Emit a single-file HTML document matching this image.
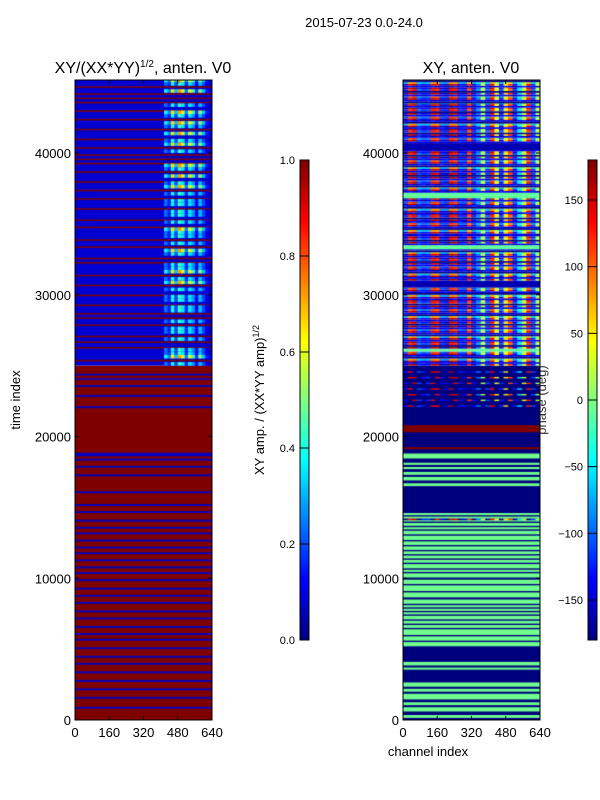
<!DOCTYPE html>
<html><head><meta charset="utf-8"><style>
body{margin:0;background:#fff;width:600px;height:800px;overflow:hidden;position:relative;font-family:"Liberation Sans",sans-serif}
canvas{position:absolute}
svg{position:absolute;left:0;top:0}
</style></head><body>
<canvas id="c1" width="137" height="640" style="left:75px;top:80px"></canvas>
<canvas id="c2" width="137" height="640" style="left:403px;top:80px"></canvas>
<canvas id="cb1" width="9" height="480" style="left:300px;top:160px"></canvas>
<canvas id="cb2" width="9" height="480" style="left:588px;top:160px"></canvas>
<svg id="ax" width="600" height="800" font-size="13" fill="#000">
<text x="364" y="27" text-anchor="middle">2015-07-23 0.0-24.0</text>
<text x="143" y="73" text-anchor="middle" font-size="16">XY/(XX*YY)<tspan dy="-6" font-size="10">1/2</tspan><tspan dy="6">, anten. V0</tspan></text>
<text x="471" y="73" text-anchor="middle" font-size="16">XY, anten. V0</text>
<text transform="translate(20,400) rotate(-90)" text-anchor="middle">time index</text>
<text x="428" y="756" text-anchor="middle">channel index</text>
<text transform="translate(264,400) rotate(-90)" text-anchor="middle">XY amp. / (XX*YY amp)<tspan dy="-5" font-size="9">1/2</tspan></text>
<text transform="translate(546,400) rotate(-90)" text-anchor="middle" fill="#333">phase (deg)</text>
<g id="axes"></g>
</svg>
<script>
const T0=0,T1=45150;
const yTicks=[0,10000,20000,30000,40000];
const xTicks=[0,160,320,480,640];
const cb1Ticks=[0,0.2,0.4,0.6,0.8,1.0];
const cb1Labels=["0.0","0.2","0.4","0.6","0.8","1.0"];
const cb2Ticks=[-150,-100,-50,0,50,100,150];
const cb2Labels=["\u2212150","\u2212100","\u221250","0","50","100","150"];
const leftBlueStripes=[800,1500,2100,2700,3300,3900,4400,5000,5600,6000,6500,7100,7600,8200,8700,9200,9800,10300,10700,11200,11700,12100,12600,13100,13500,14000,14600,15100,16000,17200,17800,18300,18600,22000,22800,23500,24300];
const leftRedStripes=[25300,26200,26600,27000,27800,28300,28600,29200,29900,30600,31300,32200,32500,33300,33800,34700,35200,36000,36700,37300,37900,38600,39200,39500,39800,40300,40900,41600,42300,42900,43500,43800,44100,44600];
const leftActiveProfile=[0.3,0.2,0.5,0.25,0.55,0.45,0.2,0.45,0.35,0.15,0.4,0.25,0.12,0.08];
// right lower: green bands [start,end] on navy background
const rightGreenBands=[[150,350],[600,900],[1050,1250],[1450,1850],[2000,2200],[2350,2650],[3550,3700],[3850,4100],
[5200,5500],[5600,5900],[6000,6400],[6500,6700],[6800,7000],[7100,7350],[7450,7600],[7700,7850],[7950,8100],[8200,8500],[8650,9000],[9100,9500],[9600,9900],[10050,10350],[10450,10600],[10700,11000],[11100,11300],[11400,11600],[11700,11900],[12000,12250],[12350,12600],[12700,13000],[13100,13350],[13450,13600],[13700,13900],[14000,14100],[14200,14350],[14450,14600],
[16500,16700],[16900,17150],[17300,17500],[17700,17850],[18000,18150],[18450,18800]];
const rightRedBands=[[19100,19250],[20300,20800]];
const rightStreakRows=[14100,22100,22500,22900,23300,23700,24100,24500];
const rightBands=[[25000,26000,2],[26000,26200,1],[26200,28000,2],[28000,29500,2],[29500,30500,2],[30500,31000,0],[31000,33200,2],[33200,33500,1],[33500,34200,2],[34200,36800,2],[36800,37200,1],[37200,38500,2],[38500,40200,2],[40200,40700,0],[40700,43500,2],[43500,45150,2]];
const rightColProfile=[-150,150,170,-120,-140,-130,160,150,-150,-160,170,160,-140,-150,130,-150,-100,20,-120,150,40,-130,60,120,-140,-60,30,140,-120,20];
const rightRowFactor=[1,-1,1,0.7,-1,1,-1,0.8,1,-1,1,0.5];

function jet(v){v=Math.max(0,Math.min(1,v));
 const r=Math.max(0,Math.min(1,1.5-Math.abs(4*v-3))),g=Math.max(0,Math.min(1,1.5-Math.abs(4*v-2))),b=Math.max(0,Math.min(1,1.5-Math.abs(4*v-1)));
 return `rgb(${r*255|0},${g*255|0},${b*255|0})`;}
const H=640,W=137;
const yOf=t=>H-(t-T0)/(T1-T0)*H;
const xOf=c=>c/640*W;
function band(ctx,t0,t1,col){const y1=yOf(t1),y0=yOf(t0);ctx.fillStyle=col;ctx.fillRect(0,y1,W,Math.max(1,y0-y1));}

const c1=document.getElementById('c1').getContext('2d');
band(c1,0,25000,jet(1));
leftBlueStripes.forEach((t,i)=>band(c1,t,t+(i==32?250:130),jet(0.07)));
band(c1,25000,T1,jet(0.08));
leftRedStripes.forEach(t=>band(c1,t,t+110,jet(1)));
for(let t=25000;t<T1;t+=250){
 const isRed=leftRedStripes.some(s=>t>=s-100&&t<s+110); if(isRed)continue;
 leftActiveProfile.forEach((v,k)=>{const f=((t/250)|0)%3==0?1.3:0.8;
  c1.fillStyle=jet(v*f);c1.fillRect(xOf(416+k*16),yOf(t+250),xOf(16)+0.5,yOf(t)-yOf(t+250));});
}
band(c1,24000,24100,jet(0.1));

const c2=document.getElementById('c2').getContext('2d');
const pv=d=>(d+180)/360;
band(c2,0,25000,jet(0));
rightGreenBands.forEach(([a,b])=>band(c2,a,b,jet(pv(-5))));
rightRedBands.forEach(([a,b])=>band(c2,a,b,jet(1)));
rightStreakRows.forEach((t,ri)=>{
 rightColProfile.forEach((v,k2)=>{const val=(k2+ri)%3==0?-175:v*0.9;
  c2.fillStyle=jet(pv(val));c2.fillRect(xOf(k2*21.34),yOf(t+100),xOf(21.34)+0.5,yOf(t)-yOf(t+100));});
});
rightBands.forEach(([a,b,k])=>{
 if(k==0){band(c2,a,b,jet(0.05));}
 else if(k==1){band(c2,a,b,jet(pv(-10)));}
 else{
  for(let t=a;t<b;t+=125){const ri=((t/125)|0);const f=rightRowFactor[ri%rightRowFactor.length];
   rightColProfile.forEach((v,k2)=>{let val=f<0?-160+((k2*7+ri)%5)*8:v*f; if(ri%6==0)val=-178;
    c2.fillStyle=jet(pv(val));c2.fillRect(xOf(k2*21.34),yOf(t+125),xOf(21.34)+0.5,yOf(t)-yOf(t+125));});}
 }
});

const cb1=document.getElementById('cb1').getContext('2d'),cb2=document.getElementById('cb2').getContext('2d');
for(let i=0;i<480;i++){cb1.fillStyle=jet(1-i/480);cb1.fillRect(0,i,9,1);cb2.fillStyle=jet(1-i/480);cb2.fillRect(0,i,9,1);}

const g=document.getElementById('axes');const NS='http://www.w3.org/2000/svg';
function el(tag,attrs,txt){const e=document.createElementNS(NS,tag);for(const k in attrs)e.setAttribute(k,attrs[k]);if(txt!==undefined)e.textContent=txt;g.appendChild(e);return e;}
[[75,'left'],[403,'right']].forEach(([x0,nm])=>{
 const r=el('rect',{x:x0,y:80,width:W,height:H,fill:'none',stroke:'#000'});
 
 
 yTicks.forEach(t=>{const y=80+yOf(t);
  el('line',{x1:x0,x2:x0+4,y1:y,y2:y,stroke:'#000'});el('line',{x1:x0+W-4,x2:x0+W,y1:y,y2:y,stroke:'#000'});
  const tx=el('text',{x:x0-4,y:y+5,'text-anchor':'end'},String(t));
  
  });
 xTicks.forEach(c=>{const x=x0+xOf(c);
  el('line',{x1:x,x2:x,y1:80,y2:84,stroke:'#000'});el('line',{x1:x,x2:x,y1:716,y2:720,stroke:'#000'});
  const tx=el('text',{x:x,y:737,'text-anchor':'middle'},String(c));
  
  });
});
el('rect',{x:300,y:160,width:9,height:480,fill:'none',stroke:'#000'});
el('rect',{x:588,y:160,width:9,height:480,fill:'none',stroke:'#000'});
cb1Ticks.forEach((v,i)=>{const y=640-v*480;el('line',{x1:300,x2:309,y1:y,y2:y,stroke:'#000'});
 const tx=el('text',{x:295,y:y+4,'text-anchor':'end','font-size':11},cb1Labels[i]);
 
 });
cb2Ticks.forEach((v,i)=>{const y=640-(v+180)/360*480;el('line',{x1:588,x2:597,y1:y,y2:y,stroke:'#000'});
 const tx=el('text',{x:583,y:y+4,'text-anchor':'end','font-size':11},cb2Labels[i]);
 
 });
</script>
</body></html>
